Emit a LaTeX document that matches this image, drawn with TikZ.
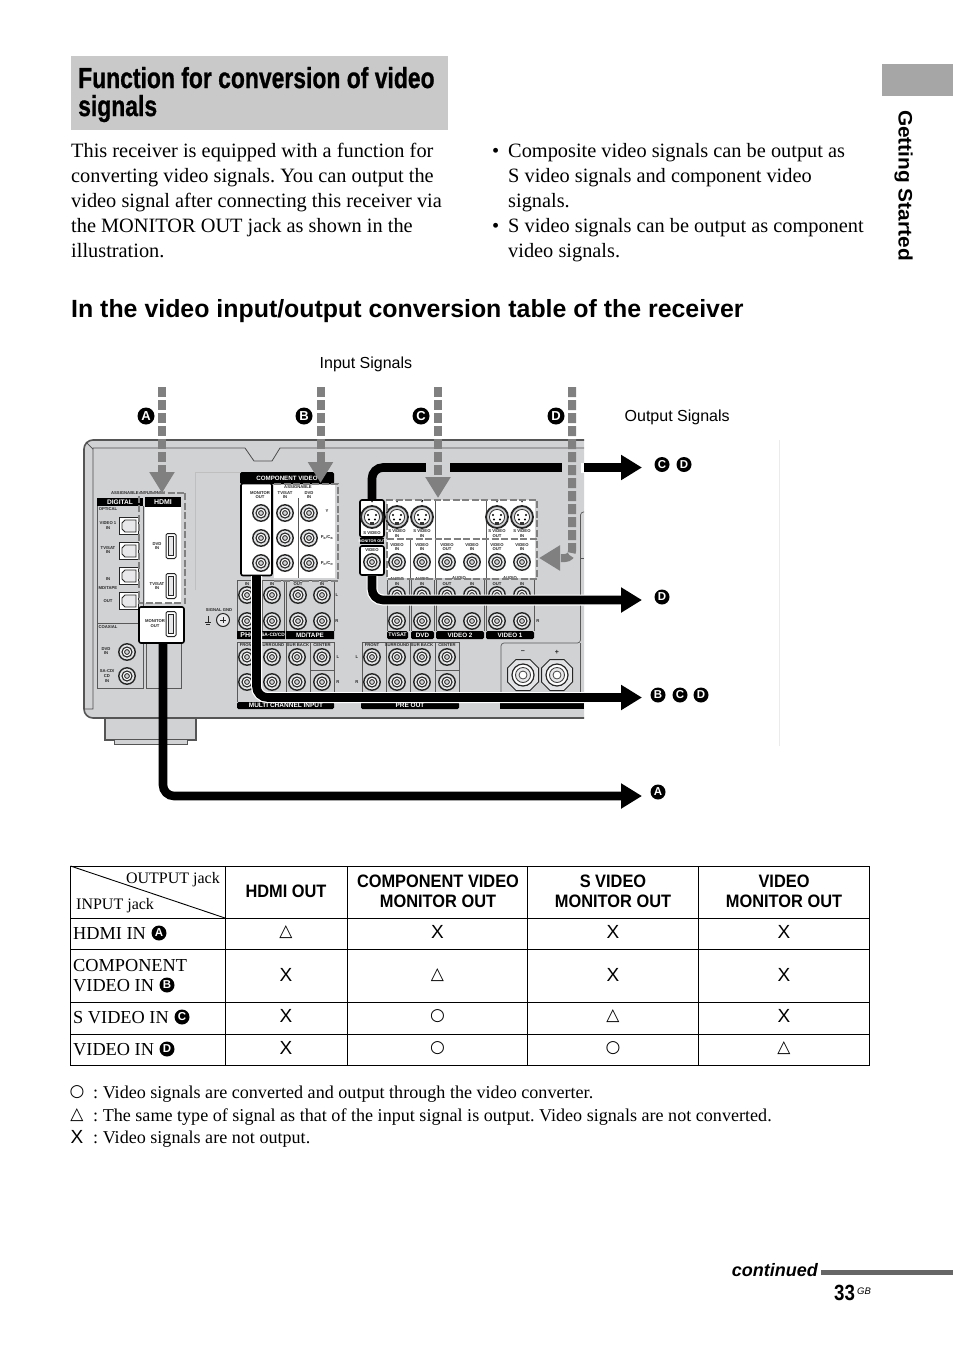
\documentclass[tikz,border=0pt]{standalone}
\usepackage{fontspec}
\usepackage{graphicx}
\setmainfont{Liberation Serif}
\setsansfont{Liberation Sans}
\newfontfamily\dejavu{DejaVu Sans}
\newfontfamily\titlefont[UprightFont=* Bold,FakeBold=1]{Liberation Sans}
\usetikzlibrary{arrows.meta}
\AtBeginDocument{\frenchspacing}
\definecolor{bodygray}{HTML}{D1D2D4}
\definecolor{edgegray}{HTML}{555555}
\definecolor{arrowgray}{HTML}{808080}
\definecolor{titlegray}{HTML}{C9C9C9}
\definecolor{tabgray}{HTML}{A6A6A6}
\newcommand{\fs}[1]{\fontsize{#1}{#1}\selectfont}
\newcommand{\nar}[1]{\scalebox{0.91}[1]{#1}}
\newcounter{tn}
\newcommand{\plab}[4][]{\stepcounter{tn}\node[tinylab,#1] (tl\arabic{tn}) at (#2,#3) {#4};}
\newcommand{\ptxt}[4][]{\stepcounter{tn}\node[txt,#1] (tx\arabic{tn}) at (#2,#3) {#4};}
\newcommand{\rca}[2]{\draw[line width=1.4pt,draw=black!85,fill=bodygray!60] (#1,#2) circle (8.2);
  \draw[line width=1.1pt,draw=black!85,fill=white] (#1,#2) circle (5);
  \draw[line width=.9pt,draw=black!80,fill=bodygray] (#1,#2) circle (2.4);}
\newcommand{\svid}[2]{\draw[line width=1.8pt,draw=black!85,fill=bodygray] (#1,#2) circle (11);
  \draw[line width=.8pt,draw=black!80,fill=white] (#1,#2) circle (7.6);
  \fill[black] (#1-4,#2-2) circle (1.1) (#1+4,#2-2) circle (1.1) (#1-3,#2+2.5) circle (1.1) (#1+3,#2+2.5) circle (1.1);
  \fill[black!80] (#1-2,#2+5) rectangle (#1+2,#2+8);
  \fill[black] (#1-1.5,#2-17) -- (#1+1.5,#2-17) -- (#1,#2-14.5) -- cycle;}
\newcommand{\optj}[2]{\draw[line width=1pt,fill=white,draw=black!85] (#1-9.5,#2-8.5) rectangle (#1+9.5,#2+8.5);
  \draw[line width=.9pt,draw=black!85,fill=bodygray!50] (#1+7,#2-6) -- (#1-4,#2-6) -- (#1-7,#2-3) -- (#1-7,#2+3) -- (#1-4,#2+6) -- (#1+7,#2+6) -- cycle;}
\newcommand{\hdmij}[2]{\draw[line width=1pt,draw=black!85,fill=white,rounded corners=1.5pt] (#1-5,#2-12.5) rectangle (#1+5,#2+12.5);
  \draw[line width=.8pt,draw=black!85,fill=bodygray!50] (#1-2.5,#2-9.5) rectangle (#1+2.5,#2+9.5);}
\newcommand{\term}[2]{\draw[line width=1pt,draw=black!85,fill=bodygray!60] (#1-7,#2-15.5) -- (#1+7,#2-15.5) -- (#1+15.5,#2-7) -- (#1+15.5,#2+7) -- (#1+7,#2+15.5) -- (#1-7,#2+15.5) -- (#1-15.5,#2+7) -- (#1-15.5,#2-7) -- cycle;
  \draw[line width=1.2pt,draw=black!85,fill=white] (#1,#2) circle (11);
  \draw[line width=.9pt,draw=black!75,fill=bodygray!50] (#1,#2) circle (7.5);
  \draw[line width=.8pt,draw=black!75,fill=white] (#1,#2) circle (4);}
\tikzset{
  tinylab/.style={inner sep=0,font=\sffamily\bfseries\fontsize{4.2}{4.9}\selectfont,text=black!85,align=center},
  hdrlab/.style={inner sep=0,font=\sffamily\bfseries\fs{6.3},text=white,align=center},
  txt/.style={inner sep=0,anchor=base west,font=\fs{20.35},text=black},
  tcell/.style={inner sep=0,font=\fs{18.3},anchor=base west},
  thead/.style={inner sep=0,font=\sffamily\bfseries\fontsize{18}{20}\selectfont,align=center},
  sym/.style={inner sep=0,font=\sffamily\fs{19}},
  symd/.style={inner sep=0,font=\dejavu\fs{17}},
  badge/.style={circle,fill=black,text=white,inner sep=0,minimum size=15pt,font=\sffamily\bfseries\fs{11.5}},
  bigbadge/.style={badge,minimum size=17pt,font=\sffamily\bfseries\fs{13}},
  thin/.style={line width=.7pt,draw=black!65},
  dashbox/.style={draw=arrowgray,line width=2.8pt,dash pattern=on 7pt off 2.5pt},
  gray arrow/.style={draw=arrowgray,line width=8pt,dash pattern=on 10pt off 3pt,-{Triangle[length=21pt,width=24pt,fill=arrowgray]}},
  halo/.style={draw=white,line width=11pt},
  blackline/.style={draw=black,line width=8.6pt,-{Triangle[length=21pt,width=24pt]}},
  jackbox/.style={draw=black,line width=1.6pt,fill=white,rounded corners=2pt,inner sep=0},
  cellrule/.style={line width=.9pt,draw=black},
}
\begin{document}
\begin{tikzpicture}[x=1pt,y=-1pt]
\useasboundingbox (0,0) rectangle (954,1352);
\fill[white] (0,0) rectangle (954,1352);
% ---------- page furniture
\fill[titlegray] (71,56) rectangle (448,130);
\ptxt{78}{88}{\titlefont\fs{29}\scalebox{0.79}[1]{Function for conversion of video}}
\ptxt{78}{116}{\titlefont\fs{29}\scalebox{0.79}[1]{signals}}
\fill[tabgray] (882,64) rectangle (953,96);
\stepcounter{tn}\node[inner sep=0,rotate=-90,font=\sffamily\bfseries\fs{19.5},anchor=center] (gs) at (903.5,185.5) {\scalebox{1.07}[1]{Getting Started}};
\ptxt{71}{157.5}{This receiver is equipped with a function for}
\ptxt{71}{182.5}{converting video signals. You can output the}
\ptxt{71}{207.5}{video signal after connecting this receiver via}
\ptxt{71}{232.5}{the MONITOR OUT jack as shown in the}
\ptxt{71}{257.5}{illustration.}
\ptxt{492}{157.5}{•}
\ptxt{508}{157.5}{Composite video signals can be output as}
\ptxt{508}{182.5}{S video signals and component video}
\ptxt{508}{207.5}{signals.}
\ptxt{492}{232.5}{•}
\ptxt{508}{232.5}{S video signals can be output as component}
\ptxt{508}{257.5}{video signals.}
\ptxt{71}{317}{\sffamily\bfseries\fs{24.9}In the video input/output conversion table of the receiver}
\ptxt{319.5}{368}{\sffamily\fs{16}Input Signals}
\ptxt{624.5}{421}{\sffamily\fs{16}Output Signals}
\draw[line width=.7pt,draw=black!8] (779.5,440) -- (779.5,746);
% ---------- receiver body
\fill[bodygray,draw=edgegray,line width=1.2pt] (105,716) -- (105,740) -- (196,740) -- (196,716);
\fill[bodygray,draw=edgegray,line width=1pt] (114,740) -- (114,744) -- (187,744) -- (187,740);
\path[fill=bodygray,draw=edgegray,line width=1.6pt,rounded corners=9pt] (584,440) -- (84,440) -- (84,718) -- (584,718);
\draw[line width=.7pt,draw=black!70] (86,442) -- (93,449);
\draw[line width=.8pt,draw=black!70] (84,709) -- (93,709) -- (93,448) -- (245,448) -- (254,461) -- (272,461) -- (280,448) -- (584,448);
\draw[line width=.6pt,draw=black!25] (195,590) -- (195,472) -- (240,472);
% digital
\fill[black] (97,498) rectangle (143,506);
\node[hdrlab,font=\sffamily\bfseries\fs{6.6}] (digi) at (120,502) {DIGITAL};
\draw[thin] (97,506) -- (97,688) -- (143,688) -- (143,506);
\draw[thin] (97,623) -- (143,623);
\plab{138}{493}{ASSIGNABLE INPUT ONLY}
\plab{108}{509}{OPTICAL}
\foreach \y in {526,551,576,601} {\optj{129}{\y}}
\plab{108}{525.5}{VIDEO 1\\IN}
\plab{108}{550}{TV/SAT\\IN}
\plab{108}{579}{IN}
\plab{108}{588}{MD/TAPE}
\plab{108}{601}{OUT}
\plab{108}{627}{COAXIAL}
\rca{127}{652}\rca{127}{676}
\plab{106}{651}{DVD\\IN}
\plab{107}{676}{SA-CD/\\CD\\IN}
% hdmi panel
\fill[white] (145,497) rectangle (181,603);
\fill[black] (145,497) rectangle (181,507);
\node[hdrlab,font=\sffamily\bfseries\fs{7}] (hdmih) at (163,502) {HDMI};
\hdmij{171}{546}\hdmij{171}{586}
\plab{157}{546}{DVD\\IN}
\plab{157}{586}{TV/SAT\\IN}
\draw[thin] (146,643) -- (146,688) -- (181,688) -- (181,643);
% component video
\fill[black,rounded corners=1.5pt] (240,472) rectangle (334,484);
\node[hdrlab,font=\sffamily\bfseries\fs{6.2}] (comph) at (287,478) {COMPONENT VIDEO};
\fill[white] (274,485) rectangle (335,578);
\draw[thin] (298,498) -- (298,578);
\plab{298}{487}{ASSIGNABLE}
\plab{285}{495}{TV/SAT\\IN}
\plab{309}{495}{DVD\\IN}
\foreach \y in {513,538,563} {\rca{285}{\y}\rca{309}{\y}}
\plab{327}{511}{Y}
\plab{327}{537}{P\textsubscript{B}/C\textsubscript{B}}
\plab{327}{563}{P\textsubscript{R}/C\textsubscript{R}}
\node[jackbox,minimum width=31pt,minimum height=92pt] (compmon) at (256.5,529.5) {};
\plab{260}{495}{MONITOR\\OUT}
\foreach \y in {513,538,563} {\rca{261}{\y}}
% audio columns, left
\foreach \a/\b in {237/260,262/284,286/334} {\draw[thin] (\a,580) -- (\a,631) (\b,580) -- (\b,631) (\a,580) -- (\b,580);}
\plab{247}{584}{IN}\plab{272}{584}{IN}\plab{298}{584}{OUT}\plab{322}{584}{IN}
\foreach \x in {247,272,298,322} {\rca{\x}{595}\rca{\x}{621}}
\plab{337}{595}{L}\plab{337}{621}{R}
\fill[black] (237,631) rectangle (260,639) (262,631) rectangle (285,639) (286,631) rectangle (334,639);
\node[hdrlab,font=\sffamily\bfseries\fs{7}] (h1) at (248,635) {PHO};
\node[hdrlab,font=\sffamily\bfseries\fs{4.8}] (h2) at (273,635) {SA-CD/CD};
\node[hdrlab] (h3) at (310,635) {MD/TAPE};
\draw[thin] (237,702) -- (237,642) -- (334,642) -- (334,702);
\foreach \x in {261,286,310} {\draw[thin] (\x,642) -- (\x,702);}
\draw[thin] (310,670) -- (334,670);
\plab{247}{645}{FRONT}\plab{272}{645}{SURROUND}\plab{298}{645}{SUR BACK}\plab{322}{645}{CENTER}
\foreach \x in {247,272,297,322} {\rca{\x}{657}\rca{\x}{682}}
\plab{338}{657}{L}\plab{338}{682}{R}
\fill[black,rounded corners=1.5pt] (237,702) rectangle (334,709);
\node[hdrlab,font=\sffamily\bfseries\fs{6.5}] (h4) at (286,705.5) {MULTI CHANNEL INPUT};
% ground
\plab{219}{610}{SIGNAL GND}
\draw[line width=1pt,draw=black!85,fill=bodygray!50] (223,620) circle (6.5);
\draw[line width=1pt,draw=black!85] (220,620) -- (226,620) (223,617) -- (223,623);
\draw[line width=.6pt,draw=black!85] (208,616) -- (208,622) (205,622) -- (211,622) (206,624) -- (210,624);
% centre video section
\fill[white] (387,500) rectangle (535,578);
\draw[thin] (410,540) -- (410,578) (435,500) -- (435,578) (486,500) -- (486,578);
\foreach \x in {397,422,497,522} {\svid{\x}{517}}
\plab{397}{533.5}{S VIDEO\\IN}\plab{422}{533.5}{S VIDEO\\IN}
\plab{497}{533.5}{S VIDEO\\OUT}\plab{522}{533.5}{S VIDEO\\IN}
\plab{397}{547}{VIDEO\\IN}\plab{422}{547}{VIDEO\\IN}\plab{447}{547}{VIDEO\\OUT}\plab{472}{547}{VIDEO\\IN}\plab{497}{547}{VIDEO\\OUT}\plab{522}{547}{VIDEO\\IN}
\foreach \x in {397,422,447,472,497,522} {\rca{\x}{562}\rca{\x}{595}\rca{\x}{621}}
\plab{397}{581.5}{AUDIO\\IN}\plab{422}{581.5}{AUDIO\\IN}\plab{447}{584.5}{OUT}\plab{472}{584.5}{IN}\plab{497}{584.5}{OUT}\plab{522}{584.5}{IN}
\plab{459}{578}{AUDIO}\plab{510}{578}{AUDIO}
\foreach \a/\b in {387/409,411/434,436/484,486/534} {\draw[thin] (\a,580) -- (\a,631) (\b,580) -- (\b,631);}
\plab{538}{621}{R}
\fill[black,rounded corners=1.5pt] (387,631) rectangle (408,639) (411,631) rectangle (434,639) (436,631) rectangle (484,639) (486,631) rectangle (534,639);
\node[hdrlab,font=\sffamily\bfseries\fs{5.2}] (h5) at (397.5,635) {TV/SAT};
\node[hdrlab] (h6) at (422.5,635) {DVD};
\node[hdrlab] (h7) at (460,635) {VIDEO 2};
\node[hdrlab] (h8) at (510,635) {VIDEO 1};
% monitor out jacks (S video / video)
\node[jackbox,minimum width=24pt,minimum height=37pt] (smon) at (372,518.5) {};
\node[jackbox,minimum width=24pt,minimum height=29pt] (vmon) at (372,560.5) {};
\svid{372}{517}
\plab{372}{533}{S VIDEO}
\fill[black] (360,538) rectangle (384,544);
\node[hdrlab,font=\sffamily\bfseries\fs{3.8}] (h9) at (372,541) {MONITOR OUT};
\plab{372}{550}{VIDEO}
\rca{372}{562}
% pre out
\draw[thin] (362,702) -- (362,642) -- (459,642) -- (459,702);
\foreach \x in {386,410,435} {\draw[thin] (\x,642) -- (\x,702);}
\draw[thin] (435,670) -- (459,670);
\plab{372}{645}{FRONT}\plab{397}{645}{SURROUND}\plab{422}{645}{SUR BACK}\plab{447}{645}{CENTER}
\foreach \x in {372,397,422,447} {\rca{\x}{657}\rca{\x}{682}}
\plab{357}{657}{L}\plab{357}{682}{R}
\fill[black,rounded corners=1.5pt] (361,702) rectangle (459,709);
\node[hdrlab,font=\sffamily\bfseries\fs{6.5}] (h10) at (410,705.5) {PRE OUT};
% speaker
\draw[thin,rounded corners=3pt] (501,702) -- (501,643) -- (580.5,643) -- (580.5,512) -- (584,512);
\draw[thin] (580.5,643) -- (580.5,702);
\draw[thin] (580.5,558) -- (584,558);
\plab{523}{652}{\fs{7}−}\plab{557}{652}{\fs{7}+}
\term{523}{675}\term{557}{675}
\fill[black] (500,702) rectangle (584,709);
% dashed selection boxes
\draw[dashbox] (185,493) -- (185,603) -- (139,603) -- (139,493) -- cycle;
\draw[dashbox] (274,484) -- (338,484) -- (338,581) -- (274,581);
\draw[dashbox] (387,539) -- (387,500) -- (537,500) -- (537,539);
\draw[dashbox] (387,539) -- (537,539) -- (537,579) -- (387,579) -- cycle;
% hdmi monitor out
\node[jackbox,minimum width=45pt,minimum height=36pt] (hmon) at (161.5,625) {};
\hdmij{171}{624}
\plab{155}{623.5}{MONITOR\\OUT}
% black output lines
\coordinate (tipCD) at (642,467.5);
\coordinate (tipD) at (642,600);
\coordinate (tipBCD) at (642,697.5);
\coordinate (tipA) at (642,796);
\coordinate (srcBCD) at (256.5,576);
\coordinate (srcA) at (163,643);
\draw[halo,rounded corners=11pt] (srcBCD) |- (584,697.5);
\draw[halo,rounded corners=11pt] (vmon.south) |- (584,600);
\draw[blackline,rounded corners=11pt] (srcA) |- (tipA);
\draw[blackline,rounded corners=11pt] (srcBCD) |- (tipBCD);
\draw[blackline,rounded corners=11pt] (vmon.south) |- (tipD);
\draw[blackline,rounded corners=11pt] (smon.north) |- (tipCD);
\fill[bodygray] (426,463) rectangle (450,473);
\fill[white] (562,463) rectangle (584,473);
\fill[bodygray] (562,463) rectangle (581,473);
% grey input arrows
\coordinate (inA) at (162,387);\coordinate (inB) at (320.5,387);\coordinate (inC) at (438,387);\coordinate (inD) at (572,387);
\coordinate (atA) at (162,493);\coordinate (atB) at (320.5,483);\coordinate (atC) at (438,498);\coordinate (atD) at (539,558);
\draw[gray arrow] (inA) -- (atA);
\draw[gray arrow] (inB) -- (atB);
\draw[gray arrow] (inC) -- (atC);
\draw[gray arrow,rounded corners=7pt] (inD) |- (atD);
% badges
\node[bigbadge] (bA) at (146,416) {A};
\node[bigbadge] (bB) at (304,416) {B};
\node[bigbadge] (bC) at (421,416) {C};
\node[bigbadge] (bD) at (556,416) {D};
\node[badge] (o1) at (662,464.5) {C};\node[badge] (o2) at (684,464.5) {D};
\node[badge] (o3) at (662,597) {D};
\node[badge] (o4) at (658,695) {B};\node[badge] (o5) at (680,695) {C};\node[badge] (o6) at (701,695) {D};
\node[badge] (o7) at (658,792) {A};
% ---------- table
\draw[cellrule] (70.5,866) rectangle (869.5,1065);
\foreach \y in {918,949,1002,1034} {\draw[cellrule] (70.5,\y) -- (869.5,\y);}
\foreach \x in {225,347,527.5,698} {\draw[cellrule] (\x,866) -- (\x,1065);}
\draw[cellrule] (70.5,866) -- (225,918);
\ptxt[font=\fs{16},anchor=base east]{220}{883}{OUTPUT jack}
\ptxt[font=\fs{16}]{76}{909}{INPUT jack}
\node[thead] (c1) at (286,891) {\nar{HDMI OUT}};
\node[thead] (c2) at (438,891.5) {\nar{COMPONENT VIDEO}\\\nar{MONITOR OUT}};
\node[thead] (c3) at (613,891.5) {\nar{S VIDEO}\\\nar{MONITOR OUT}};
\node[thead] (c4) at (784,891.5) {\nar{VIDEO}\\\nar{MONITOR OUT}};
\ptxt[tcell]{73}{939}{HDMI IN}
\ptxt[tcell]{73}{971}{COMPONENT}
\ptxt[tcell]{73}{991}{VIDEO IN}
\ptxt[tcell]{73}{1023}{S VIDEO IN}
\ptxt[tcell]{73}{1055}{VIDEO IN}
\node[badge] (t1) at (159,933) {A};
\node[badge] (t2) at (167,985) {B};
\node[badge] (t3) at (182,1017) {C};
\node[badge] (t4) at (167,1049) {D};
\node[symd] (s11) at (286,932) {△};
\node[sym] (s12) at (437.5,932) {X};
\node[sym] (s13) at (613,932) {X};
\node[sym] (s14) at (784,932) {X};
\node[sym] (s21) at (286,975) {X};
\node[symd] (s22) at (437.5,975) {△};
\node[sym] (s23) at (613,975) {X};
\node[sym] (s24) at (784,975) {X};
\node[sym] (s31) at (286,1016) {X};
\node[symd] (s32) at (437.5,1016) {○};
\node[symd] (s33) at (613,1016) {△};
\node[sym] (s34) at (784,1016) {X};
\node[sym] (s41) at (286,1048) {X};
\node[symd] (s42) at (437.5,1048) {○};
\node[symd] (s43) at (613,1048) {○};
\node[symd] (s44) at (784,1048) {△};
% ---------- legend
\node[symd] (l1) at (77,1092.5) {○};
\node[symd] (l2) at (77,1115) {△};
\node[sym] (l3) at (77,1137) {X};
\ptxt[font=\fs{18.1}]{93}{1098}{: Video signals are converted and output through the video converter.}
\ptxt[font=\fs{18.1}]{93}{1121}{: The same type of signal as that of the input signal is output. Video signals are not converted.}
\ptxt[font=\fs{18.1}]{93}{1143}{: Video signals are not output.}
% ---------- footer
\fill[black!60] (821,1270) rectangle (953,1275);
\ptxt[font=\sffamily\bfseries\itshape\fs{18},anchor=base east]{818}{1276}{continued}
\ptxt[font=\sffamily\bfseries\fs{22}]{834}{1300}{\scalebox{0.85}[1]{33}}
\ptxt[font=\sffamily\itshape\fs{9.5}]{857}{1294}{GB}
\end{tikzpicture}
\end{document}
